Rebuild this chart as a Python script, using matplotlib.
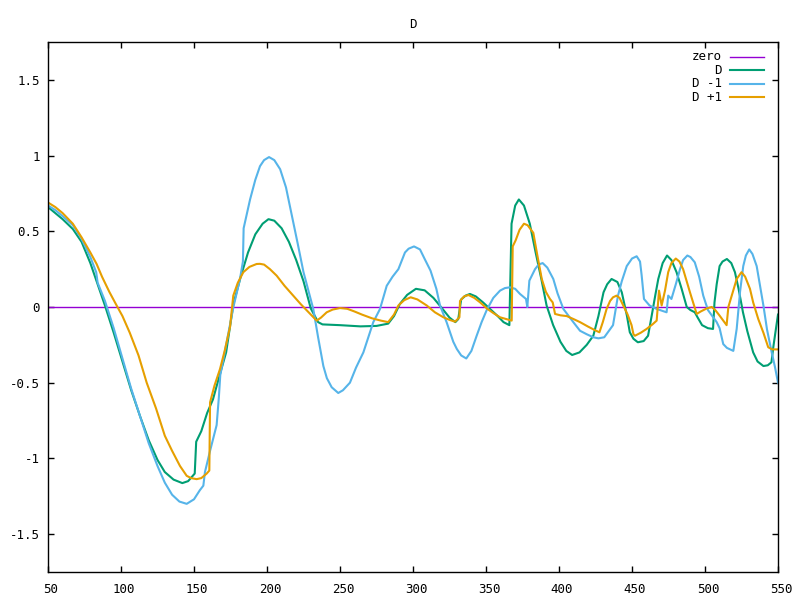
import matplotlib
matplotlib.use("Agg")
import matplotlib.pyplot as plt
from matplotlib.transforms import ScaledTranslation

plt.rcParams['font.family'] = ['DejaVu Sans Mono']

title = "D"
series_names = ["zero", "D", "D -1", "D +1"]
series_colors = ["#9400d3", "#009e73", "#56b4e9", "#e69f00"]

x_ticks = [50, 100, 150, 200, 250, 300, 350, 400, 450, 500, 550]
y_ticks = [-1.5, -1, -0.5, 0, 0.5, 1, 1.5]
y_tick_labels = ["-1.5", "-1", "-0.5", "0", "0.5", "1", "1.5"]

zero_x = [50, 550]
zero_y = [0, 0]

d_x = [50, 55, 60, 67, 73, 79, 84, 89, 95, 101, 107, 113, 119, 125, 130, 136, 142, 146, 150.5, 151.5,
       155, 159, 163, 167, 172, 177, 182, 187, 192, 197, 201, 205, 210, 215, 220, 225, 230, 235, 238,
       250, 264, 275, 283, 287, 291, 296, 302, 308, 314, 320, 325, 329, 331, 333, 336, 339, 343, 348,
       353, 358, 362, 366, 367.5, 370, 372.5, 376, 380, 384, 388, 391.5, 396, 401, 405, 409, 414, 419,
       423.5, 427, 430.5, 433, 436, 440, 443, 446.5, 448.5, 451, 454, 458, 461, 463.5, 466, 468, 471,
       474, 477, 480.5, 484, 487.5, 490, 493, 495, 498, 502, 505.5, 506.5, 508, 510, 512, 515, 518,
       520.5, 523, 526, 529, 533, 536, 540, 543, 545.5, 547, 550]
d_y = [0.66, 0.62, 0.58, 0.515, 0.43, 0.29, 0.15, 0.01, -0.17, -0.36, -0.55, -0.72, -0.88, -1.01, -1.09,
       -1.14, -1.163, -1.15, -1.10, -0.89,
       -0.82, -0.70, -0.61, -0.47, -0.30, 0.02, 0.20, 0.36, 0.48, 0.55, 0.58, 0.57, 0.52, 0.43, 0.31,
       0.17, -0.01, -0.10, -0.115,
       -0.12, -0.128, -0.125, -0.11, -0.06, 0.02, 0.08, 0.12, 0.11, 0.06, -0.01, -0.07, -0.10, -0.08,
       0.05, 0.075, 0.086, 0.07, 0.03,
       -0.015, -0.06, -0.10, -0.12, 0.55, 0.67, 0.71, 0.67, 0.55, 0.36, 0.18, 0.01, -0.12, -0.23,
       -0.29, -0.317, -0.30, -0.25,
       -0.19, -0.06, 0.097, 0.15, 0.185, 0.165, 0.097, -0.057, -0.167, -0.21, -0.233, -0.225, -0.19,
       -0.057, 0.08, 0.185, 0.29,
       0.34, 0.31, 0.23, 0.12, 0.0, -0.02, -0.035, -0.07, -0.12, -0.14, -0.145, 0.03, 0.15, 0.27,
       0.30, 0.317, 0.29,
       0.23, 0.12, -0.035, -0.16, -0.30, -0.36, -0.39, -0.385, -0.365, -0.25, -0.05]

dm1_x = [50, 55, 60, 67, 73, 79, 83, 84, 89, 95, 101, 107, 113, 119, 125, 130, 135, 140, 145, 150,
         154, 156.4, 157.5, 161, 165.5, 167, 168, 172.4, 177, 181.5, 183.5, 184, 188.4, 192, 195.2,
         198, 201.4, 205, 209, 213, 218, 221, 225, 231.7, 235, 238.6, 241, 244.3, 248.8, 252, 256.8,
         261, 266, 272.8, 277.4, 282, 286, 290, 294.5, 297, 300.7, 304.8, 308, 312, 316, 318.5, 323,
         327.6, 330, 333, 336.5, 340, 343.6, 347, 350.5, 355, 359.6, 363, 366.4, 370, 373.3, 377.4,
         378.3, 379.7, 383.6, 386, 388.8, 392, 396.1, 399, 403, 409.8, 414.4, 419, 423.5, 427, 431,
         437, 440.4, 443, 446.4, 450, 453.2, 455.5, 456.6, 458.2, 462, 466.9, 473.7, 474.8, 477, 480,
         482.9, 485, 487.9, 490, 493, 496, 498.8, 502, 505, 508, 510, 512.5, 515, 519.4, 521.7, 524,
         526.2, 528, 530.3, 532.5, 535.4, 540, 542.5, 545.7, 548, 550]
dm1_y = [0.67, 0.64, 0.60, 0.54, 0.45, 0.33, 0.23, 0.16, 0.04, -0.14, -0.34, -0.54, -0.72, -0.90,
         -1.05, -1.16, -1.24, -1.285, -1.30, -1.27,
         -1.21, -1.18, -1.09, -0.95, -0.78, -0.60, -0.45, -0.23, 0.0, 0.185, 0.30, 0.52, 0.71, 0.84,
         0.93,
         0.97, 0.99, 0.97, 0.91, 0.79, 0.56, 0.42, 0.23, -0.013, -0.20, -0.39, -0.47, -0.53, -0.568,
         -0.55, -0.50,
         -0.40, -0.30, -0.10, -0.013, 0.14, 0.20, 0.25, 0.36, 0.385, 0.40, 0.38, 0.317, 0.24, 0.12,
         0.01, -0.10,
         -0.23, -0.277, -0.32, -0.34, -0.29, -0.19, -0.10, -0.02, 0.06, 0.108, 0.125, 0.13, 0.12,
         0.086, 0.053,
         0.0, 0.174, 0.25, 0.28, 0.29, 0.26, 0.185, 0.09, -0.013, -0.10, -0.157, -0.18, -0.20,
         -0.207, -0.20,
         -0.12, 0.075, 0.17, 0.27, 0.32, 0.335, 0.30, 0.21, 0.053, 0.01, -0.013, -0.035, 0.075,
         0.053, 0.15,
         0.25, 0.31, 0.34, 0.33, 0.295, 0.20, 0.075, -0.02, -0.06, -0.10, -0.14, -0.245, -0.27,
         -0.29, -0.145, 0.10,
         0.27, 0.34, 0.38, 0.35, 0.27, 0.01, -0.15, -0.30, -0.40, -0.50]

dp1_x = [50, 55, 60, 67, 73, 79, 83.3, 87, 92, 97, 101, 106, 112, 117.6, 124, 130, 135, 140.4, 145,
         148, 151.8, 155, 158.7, 160.5, 161, 164, 167.8, 171, 174.7, 176.9, 180, 183.8, 188, 192.9,
         195.2, 198, 202, 206.6, 212, 218, 223, 228, 234, 237, 240.9, 245, 250, 255, 260, 265, 272,
         278, 283, 287, 290, 294, 298.4, 303, 309.4, 315, 320.8, 325, 328.8, 331.8, 332.2, 335, 338,
         342, 346, 351, 355, 359.6, 364, 367.6, 368.3, 370.3, 373, 376, 378.5, 382.4, 385, 388.2,
         391, 393.8, 395.7, 397.3, 401, 405.3, 410, 414.4, 420, 425, 427.7, 430, 432.6, 435, 437,
         439.4, 441.5, 444, 447, 449.7, 451, 452, 456, 460, 464, 466.9, 468.5, 470.3, 472.6, 474.8,
         477, 480, 482.5, 485, 489.7, 494.3, 497, 501.1, 504.6, 507, 510, 514.8, 516, 518.3, 521.7,
         525, 527.5, 530.8, 533, 536.5, 540, 543.3, 546, 550]
dp1_y = [0.69, 0.66, 0.62, 0.55, 0.46, 0.36, 0.284, 0.20, 0.10, 0.01, -0.06, -0.17, -0.32, -0.50,
         -0.67, -0.85, -0.95, -1.05, -1.115,
         -1.13, -1.137, -1.13, -1.10, -1.08, -0.63, -0.52, -0.41, -0.29, -0.13, 0.075, 0.16, 0.23,
         0.265, 0.284,
         0.285, 0.28, 0.25, 0.207, 0.14, 0.075, 0.02, -0.03, -0.09, -0.07, -0.035, -0.017, -0.007,
         -0.012, -0.03, -0.05, -0.075,
         -0.09, -0.10, -0.05, 0.01, 0.045, 0.064, 0.05, 0.01, -0.035, -0.068, -0.085, -0.097,
         -0.068, 0.04, 0.07, 0.079,
         0.06, 0.03, -0.013, -0.04, -0.068, -0.08, -0.09, 0.40, 0.44, 0.51, 0.55, 0.54, 0.49,
         0.35, 0.185,
         0.10, 0.053, 0.03, -0.046, -0.055, -0.06, -0.08, -0.10, -0.13, -0.155, -0.167, -0.10,
         -0.013, 0.04, 0.064,
         0.075, 0.06, 0.01, -0.05, -0.12, -0.18, -0.19, -0.17, -0.145, -0.115, -0.09, 0.108, 0.01,
         0.108, 0.23,
         0.29, 0.32, 0.30, 0.25, 0.097, -0.046, -0.03, -0.01, 0.0, -0.02, -0.057, -0.12, 0.0,
         0.075, 0.185,
         0.23, 0.20, 0.12, 0.03, -0.08, -0.17, -0.266, -0.28, -0.28]

fig = plt.figure(figsize=(8, 6), dpi=100)
ax = fig.add_axes([0.06, 0.0467, 0.9125, 0.8833])

series = [(zero_x, zero_y), (d_x, d_y), (dm1_x, dm1_y), (dp1_x, dp1_y)]
for (xs, ys), c, name in zip(series, series_colors, series_names):
    lw = 1.0 if name == "zero" else 1.5
    ax.plot(xs, ys, color=c, lw=lw, label=name, solid_joinstyle='round')

ax.set_xlim(50, 550)
ax.set_ylim(-1.75, 1.75)
ax.set_xticks(x_ticks)
ax.set_yticks(y_ticks)
ax.set_yticklabels(y_tick_labels)
ax.tick_params(direction='in', length=4, width=1, top=True, right=True, labelsize=9)
ax.tick_params(axis='y', pad=6)
ax.tick_params(axis='x', pad=8)
offset = ScaledTranslation(3 / 100, 0, fig.dpi_scale_trans)
for lab in ax.get_xticklabels():
    lab.set_transform(lab.get_transform() + offset)
for s in ax.spines.values():
    s.set_linewidth(1)
ax.set_title(title, fontsize=9, pad=10)

# legend (gnuplot style: right-aligned labels, sample to the right)
row_y = [0.9717, 0.947, 0.921, 0.896]
for name, c, yy in zip(series_names, series_colors, row_y):
    ax.text(0.923, yy, name, transform=ax.transAxes, ha='right', va='center', fontsize=9)
    ax.plot([0.934, 0.981], [yy, yy], transform=ax.transAxes, color=c,
            lw=1.0 if name == "zero" else 1.5, clip_on=False)

fig.savefig("out.png", dpi=100)
